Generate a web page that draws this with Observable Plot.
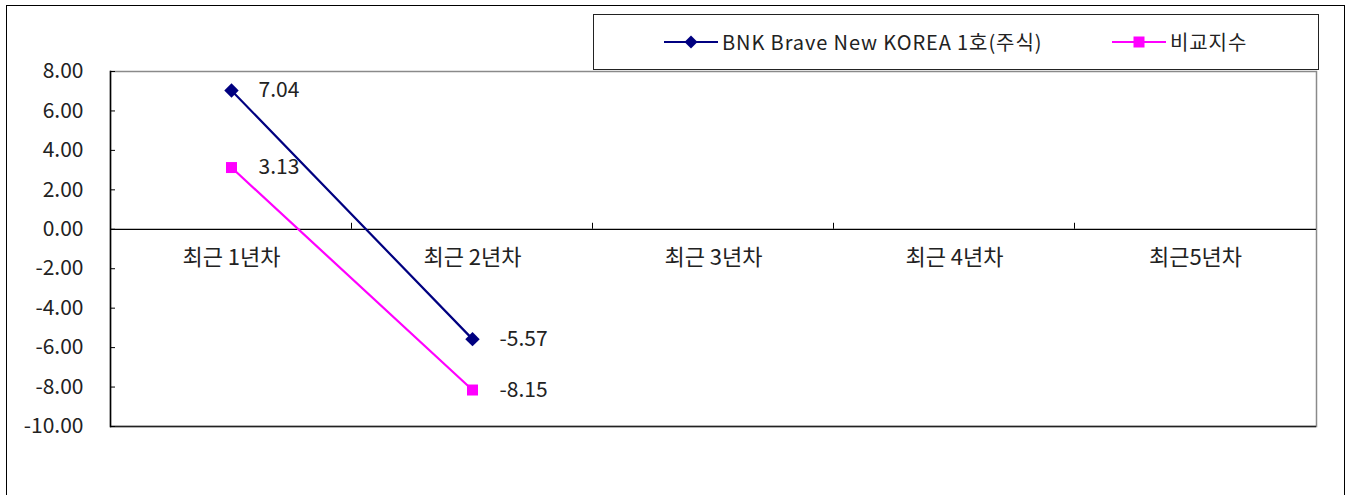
<!DOCTYPE html>
<html><head><meta charset="utf-8">
<script src="https://cdn.jsdelivr.net/npm/d3@7"></script>
<script src="https://cdn.jsdelivr.net/npm/@observablehq/plot@0.6"></script>
<style>
body{margin:0;background:#fff;}
#wrap{position:relative;width:1348px;height:495px;overflow:hidden;font-family:"Noto Sans CJK KR","Noto Sans",sans-serif;}
#outer{position:absolute;left:6px;top:5px;width:1337px;height:520px;border:1.5px solid #000;pointer-events:none}
#legend{position:absolute;left:593px;top:14px;width:726px;height:56px;border:1.5px solid #222;background:#fff;box-sizing:border-box}
#legend .item{position:absolute;top:0;height:53px;display:flex;align-items:center;font-size:20px;letter-spacing:0.9px;color:#222;white-space:nowrap}
#legend svg{display:block;margin-right:4px}
</style></head><body>
<div id="wrap"><div id="outer"></div><div id="chart"></div><div id="legend"></div></div>
<script>
const categories = ["최근 1년차", "최근 2년차", "최근 3년차", "최근 4년차", "최근5년차"];
const seriesNames = ["BNK Brave New KOREA 1호(주식)", "비교지수"];
const fundValues = [7.04, -5.57, null, null, null];
const indexValues = [3.13, -8.15, null, null, null];
const yTicks = [-10, -8, -6, -4, -2, 0, 2, 4, 6, 8];
const colors = ["#000080", "#FF00FF"];

const rows = [];
[fundValues, indexValues].forEach((vals, s) =>
  vals.forEach((v, i) => { if (v != null) rows.push({cat: categories[i], value: v, series: seriesNames[s]}); })
);

function boundaryTicks(index, scales) {
  const x = scales.x, y = scales.y;
  const g = d3.create("svg:g");
  const y0 = y(0);
  for (let i = 0; i < categories.length - 1; i++) {
    const bx = (x(categories[i]) + x(categories[i + 1])) / 2;
    g.append("line").attr("x1", bx).attr("x2", bx).attr("y1", y0).attr("y2", y0 - 6).attr("stroke", "#000");
  }
  return g.node();
}

const font = '"Noto Sans CJK KR","Noto Sans",sans-serif';
const chart = Plot.plot({
  width: 1348, height: 495,
  marginLeft: 110, marginRight: 32, marginTop: 71, marginBottom: 69,
  style: {fontFamily: font, fontSize: "20px", color: "#222", background: "transparent"},
  x: {type: "point", domain: categories, padding: 0.5, axis: null},
  y: {domain: [-10, 8], axis: null},
  color: {domain: seriesNames, range: colors},
  marks: [
    Plot.frame({stroke: "#8a8a8a", strokeWidth: 1.5}),
    Plot.ruleY([-10], {stroke: "#222", strokeWidth: 1.5}),
    Plot.frame({anchor: "left", stroke: "#000", strokeWidth: 1.5}),
    Plot.ruleY([0], {stroke: "#000", strokeWidth: 1.2}),
    boundaryTicks,
    Plot.axisY(yTicks, {label: null, tickSize: -5, tickPadding: 32, tickFormat: d => d.toFixed(2), fontSize: 21, stroke: "#000", style: "letter-spacing:0.8px"}),
    Plot.text(categories, {x: d => d, y: () => 0, dy: 29, fontSize: 22, fill: "#222"}),
    Plot.line(rows, {x: "cat", y: "value", z: "series", stroke: "series", strokeWidth: 2.2}),
    Plot.dot(rows.filter(d => d.series === seriesNames[0]), {x: "cat", y: "value", fill: "series", symbol: () => "diamond2", r: 6.5}),
    Plot.dot(rows.filter(d => d.series === seriesNames[1]), {x: "cat", y: "value", fill: "series", symbol: () => "square", r: 6.2}),
    Plot.text(rows, {x: "cat", y: "value", text: d => d.value.toFixed(2), dx: 27, textAnchor: "start", fontSize: 21, fill: "#222"})
  ]
});
document.getElementById("chart").appendChild(chart);

// legend
const legend = document.getElementById("legend");
const legendX = [70, 518];
const markerSvg = [
  c => `<svg width="54" height="16"><line x1="0" x2="54" y1="8" y2="8" stroke="${c}" stroke-width="2.2"/><path d="M27,1.5L33.5,8L27,14.5L20.5,8Z" fill="${c}"/></svg>`,
  c => `<svg width="54" height="16"><line x1="0" x2="54" y1="8" y2="8" stroke="${c}" stroke-width="2.2"/><rect x="21.5" y="2.5" width="11" height="11" fill="${c}"/></svg>`
];
seriesNames.forEach((name, i) => {
  const div = document.createElement("div");
  div.className = "item";
  div.style.left = legendX[i] + "px";
  div.innerHTML = markerSvg[i](colors[i]) + `<span>${name}</span>`;
  legend.appendChild(div);
});
</script>
</body></html>
